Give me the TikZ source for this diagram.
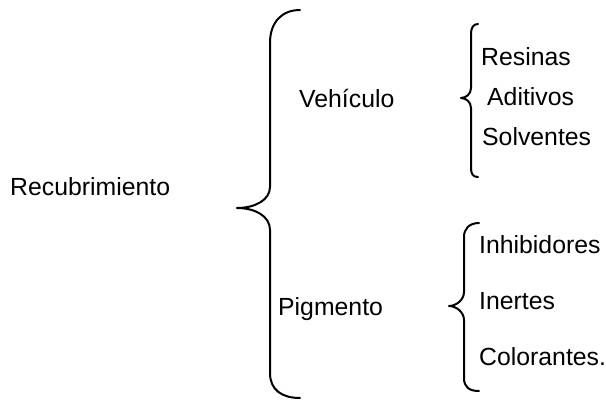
\documentclass[tikz,border=0pt]{standalone}
\usepackage{fontspec}
\setmainfont{Liberation Sans}
\begin{document}
\begin{tikzpicture}[x=1pt,y=-1pt,
  lbl/.style={anchor=base west,inner sep=0pt,font=\fontsize{24.8}{29}\selectfont},
  brc/.style={line width=2pt,line cap=round,line join=round}]
\useasboundingbox (0,0) rectangle (606,405);
% labels
\node[lbl] (rec) at (10,195) {Recubrimiento};
\node[lbl] (veh) at (299,107) {Vehículo};
\node[lbl] (pig) at (278,315) {Pigmento};
\node[lbl] (res) at (481,65) {Resinas};
\node[lbl] (adi) at (487,105) {Aditivos};
\node[lbl] (sol) at (482,145) {Solventes};
\node[lbl] (inh) at (479,253) {Inhibidores};
\node[lbl] (ine) at (479,309) {Inertes};
\node[lbl] (col) at (479,365) {Colorantes.};
% big brace
\draw[brc] (300,10) .. controls (282,10) and (270,22) .. (270,43) -- (270,187)
  .. controls (270,200) and (255,208) .. (237,208)
  .. controls (255,208) and (270,216) .. (270,230) -- (270,373)
  .. controls (270,390) and (282,398) .. (300,398);
% upper small brace
\draw[brc] (478,24) .. controls (473,24) and (471,28) .. (471,34) -- (471,88)
  .. controls (471,94) and (466,98) .. (461,98)
  .. controls (466,98) and (471,102) .. (471,108) -- (471,168)
  .. controls (471,174) and (473,177) .. (478,177);
% lower small brace
\draw[brc] (479,223) .. controls (469,223) and (464,229) .. (464,237) -- (464,292)
  .. controls (464,300) and (456,306) .. (449,306)
  .. controls (456,306) and (464,312) .. (464,320) -- (464,378)
  .. controls (464,387) and (469,391) .. (479,391);
\end{tikzpicture}
\end{document}
